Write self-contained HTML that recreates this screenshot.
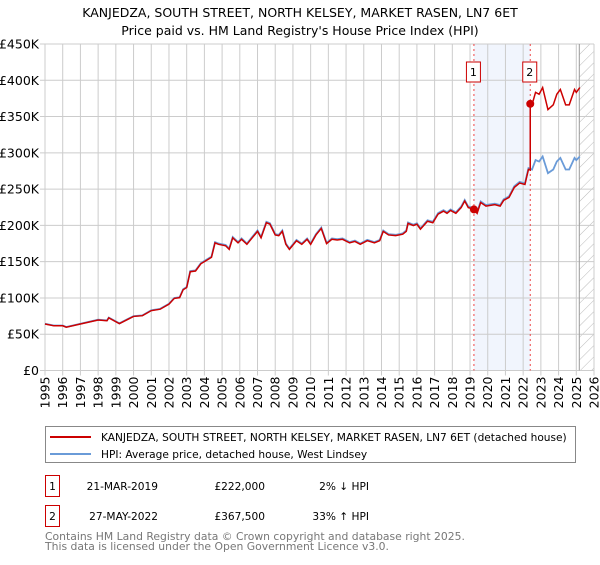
<!DOCTYPE html>
<html><head><meta charset="utf-8"><style>
body{margin:0;background:#fff;font-family:"Liberation Sans","DejaVu Sans",sans-serif;}
svg text{font-family:"DejaVu Sans","Liberation Sans",sans-serif;}
</style></head><body>
<svg id="c" width="600" height="560" viewBox="0 0 600 560" xmlns="http://www.w3.org/2000/svg">
<defs><pattern id="hatch" width="8" height="8" patternUnits="userSpaceOnUse" patternTransform="rotate(45)"><line x1="0" y1="0" x2="0" y2="8" stroke="#bbb" stroke-width="1"/></pattern></defs>
<text x="300" y="17" text-anchor="middle" font-size="12.5" fill="#000">KANJEDZA, SOUTH STREET, NORTH KELSEY, MARKET RASEN, LN7 6ET</text>
<text x="300" y="35" text-anchor="middle" font-size="12.5" fill="#000">Price paid vs. HM Land Registry's House Price Index (HPI)</text>
<g id="grid"></g>
<g id="marks"></g>
<g id="axes"></g>
<rect x="45.5" y="426.5" width="530" height="36" fill="#fff" stroke="#888"/>
<line x1="50" y1="437" x2="91" y2="437" stroke="#cc0000" stroke-width="2"/>
<text x="101" y="441" font-size="10.6">KANJEDZA, SOUTH STREET, NORTH KELSEY, MARKET RASEN, LN7 6ET (detached house)</text>
<line x1="50" y1="454" x2="91" y2="454" stroke="#6a9bd8" stroke-width="2"/>
<text x="101" y="458" font-size="10.6">HPI: Average price, detached house, West Lindsey</text>
<g id="table" font-size="10.6"></g>
<text x="45" y="540" font-size="10.8" fill="#777">Contains HM Land Registry data © Crown copyright and database right 2025.</text>
<text x="45" y="550" font-size="10.8" fill="#777">This data is licensed under the Open Government Licence v3.0.</text>
</svg>
<script>
const hpiYears=[1995.0,1995.5,1996.0,1996.2,1997.0,1998.0,1998.5,1998.6,1999.2,2000.0,2000.5,2001.0,2001.5,2002.0,2002.3,2002.6,2002.8,2003.0,2003.2,2003.5,2003.8,2004.2,2004.4,2004.6,2004.8,2005.2,2005.4,2005.6,2005.9,2006.1,2006.4,2006.7,2007.0,2007.2,2007.5,2007.7,2008.0,2008.2,2008.4,2008.6,2008.8,2009.2,2009.5,2009.8,2010.0,2010.3,2010.6,2010.9,2011.2,2011.5,2011.8,2012.2,2012.5,2012.8,2013.2,2013.6,2013.9,2014.1,2014.4,2014.8,2015.2,2015.4,2015.5,2015.8,2016.0,2016.2,2016.6,2016.9,2017.2,2017.5,2017.7,2017.9,2018.2,2018.5,2018.7,2018.9,2019.2,2019.4,2019.6,2019.9,2020.4,2020.7,2020.9,2021.2,2021.5,2021.8,2022.1,2022.3,2022.5,2022.7,2022.9,2023.1,2023.4,2023.7,2023.9,2024.1,2024.4,2024.6,2024.9,2025.0,2025.2];
const hpiValues=[64.5,62,62,60,64.5,70,69,73,65,75,76,83,85,92,100,101,112,115,137,138,148,154,157,177,175,173,168,184,177,182,175,184,193,184,205,203,188,187,193,175,168,180,175,182,175,188,197,176,182,181,182,177,179,175,180,177,180,193,188,187,189,193,204,201,203,196,207,205,217,221,218,222,218,226,235,226,224,218,233,228,230,228,236,240,254,260,258,279,277,290,288,295,272,277,288,293,277,277,293,290,295];
const saleDates=[2019.22,2022.40];
const salePrices=[222,367.5];
const saleLabels=["1","2"];
const saleDateText=["21-MAR-2019","27-MAY-2022"];
const salePriceText=["£222,000","£367,500"];
const saleHpiText=["2% ↓ HPI","33% ↑ HPI"];
const yTicks=[0,50,100,150,200,250,300,350,400,450];
const yTickLabels=["£0","£50K","£100K","£150K","£200K","£250K","£300K","£350K","£400K","£450K"];
const xTicks=[];for(let y=1995;y<=2026;y++)xTicks.push(y);

const NS="http://www.w3.org/2000/svg";
const X=t=>45+(t-1995)*(549/31);
const Y=v=>370.5-v*(326.5/450);
function mk(tag,attrs,parent){const e=document.createElementNS(NS,tag);for(const k in attrs)e.setAttribute(k,attrs[k]);parent.appendChild(e);return e;}
const grid=document.getElementById('grid'),marks=document.getElementById('marks'),axes=document.getElementById('axes'),table=document.getElementById('table');
function hpiAt(t){for(let i=0;i<hpiYears.length-1;i++){if(t>=hpiYears[i]&&t<=hpiYears[i+1]){const f=(t-hpiYears[i])/(hpiYears[i+1]-hpiYears[i]);return hpiValues[i]+f*(hpiValues[i+1]-hpiValues[i]);}}return hpiValues[hpiValues.length-1];}

let band=mk('rect',{x:X(saleDates[0]),y:Y(450),width:X(saleDates[1])-X(saleDates[0]),height:Y(0)-Y(450),fill:'#eef3fc',opacity:0.8},grid);


let hatch=mk('rect',{x:X(2025.17),y:Y(450),width:X(2026)-X(2025.17),height:Y(0)-Y(450),fill:'url(#hatch)'},grid);


yTicks.forEach((v,i)=>{
 const l=mk('line',{x1:X(1995)-5,x2:X(2026),y1:Y(v),y2:Y(v),stroke:'#ccc','stroke-width':1},grid);
 
 
 const t=mk('text',{x:39,y:Y(v)+4.5,'text-anchor':'end','font-size':12.5,fill:'#000'},axes);t.textContent=yTickLabels[i];
 
 
});
xTicks.forEach(yr=>{
 const l=mk('line',{x1:X(yr),x2:X(yr),y1:Y(450),y2:Y(0)+5,stroke:'#ccc','stroke-width':1},grid);
 
 
 const t=mk('text',{transform:`translate(${X(yr)+4.5},${Y(0)+6}) rotate(-90)`,'text-anchor':'end','font-size':12.5,fill:'#000'},axes);t.textContent=yr;
 
 
});
let fl=mk('line',{x1:X(2025.17),x2:X(2025.17),y1:Y(450),y2:Y(0),stroke:'#999','stroke-width':1},grid);


saleDates.forEach((d,i)=>{
 const l=mk('line',{x1:X(d),x2:X(d),y1:Y(450),y2:Y(0),stroke:'#ee4444','stroke-width':1,'stroke-dasharray':'2,3'},grid);
 
 
 const bx=X(d)-7.5;
 const r=mk('rect',{x:bx,y:62,width:14,height:20,fill:'#fff',stroke:'#cc0000'},axes);
 
 
 const t=mk('text',{x:bx+7,y:76,'text-anchor':'middle','font-size':11},axes);t.textContent=saleLabels[i];
 
 
});
const hp=mk('polyline',{points:hpiYears.map((t,i)=>X(t)+','+Y(hpiValues[i])).join(' '),fill:'none',stroke:'#6a9bd8','stroke-width':1.8},marks);


const f0=salePrices[0]/hpiAt(saleDates[0]),f1=salePrices[1]/hpiAt(saleDates[1]);
const pts=[];
hpiYears.forEach((t,i)=>{if(t<saleDates[1])pts.push([t,hpiValues[i]*f0]);});
pts.push([saleDates[1],hpiAt(saleDates[1])*f0]);
pts.push([saleDates[1],salePrices[1]]);
hpiYears.forEach((t,i)=>{if(t>saleDates[1])pts.push([t,hpiValues[i]*f1]);});
const pl=mk('polyline',{points:pts.map(p=>X(p[0])+','+Y(p[1])).join(' '),fill:'none',stroke:'#cc0000','stroke-width':1.5},marks);


saleDates.forEach((d,i)=>{
 const c=mk('circle',{cx:X(d),cy:Y(salePrices[i]),r:4,fill:'#cc0000'},marks);
 
 
});
saleDates.forEach((d,i)=>{
 const y0=475+i*30;
 const r=mk('rect',{x:45.5,y:y0+0.5,width:14,height:21,fill:'#fff',stroke:'#cc0000'},table);
 
 
 const cells=[[52.5,saleLabels[i],'middle'],[158,saleDateText[i],'end'],[265,salePriceText[i],'end'],[369,saleHpiText[i],'end']];
 cells.forEach(c=>{const t=mk('text',{x:c[0],y:y0+15,'text-anchor':c[2],'font-size':10.6},table);t.textContent=c[1];
  
  });
});
</script>
</body></html>
